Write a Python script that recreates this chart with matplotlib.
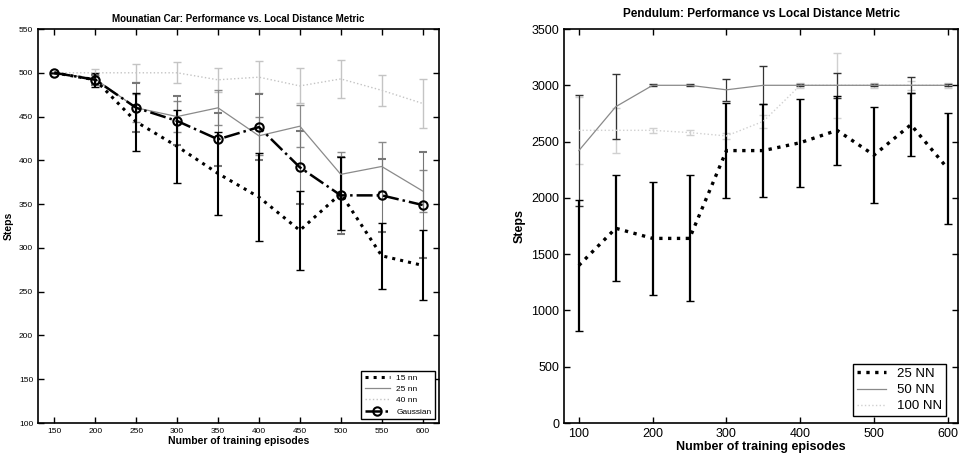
import matplotlib.pyplot as plt
from matplotlib.lines import Line2D

plt.rcParams['font.family'] = ['Liberation Sans Narrow', 'Liberation Sans', 'DejaVu Sans']

# Mountain car
car_x = [150, 200, 250, 300, 350, 400, 450, 500, 550, 600]
car_15 = [500, 492, 444, 416, 385, 358, 320, 362, 291, 280]
car_15_err = [0, 8, 33, 42, 47, 50, 45, 42, 38, 40]
car_25 = [500, 493, 460, 450, 460, 428, 439, 384, 393, 365]
car_25_err = [0, 5, 16, 18, 20, 22, 24, 26, 28, 24]
car_40 = [500, 500, 500, 500, 492, 495, 485, 493, 480, 465]
car_40_err = [0, 4, 10, 12, 14, 18, 20, 22, 18, 28]
car_gauss = [500, 492, 460, 445, 424, 438, 392, 360, 360, 349]
car_gauss_err = [0, 6, 28, 28, 30, 38, 42, 44, 42, 60]

# Pendulum
pen_x = [100, 150, 200, 250, 300, 350, 400, 450, 500, 550, 600]
pen_25 = [1400, 1730, 1640, 1640, 2420, 2420, 2490, 2600, 2380, 2650, 2260]
pen_25_err = [580, 470, 500, 560, 420, 410, 390, 305, 430, 280, 490]
pen_50 = [2420, 2810, 3000, 3000, 2960, 3000, 3000, 3000, 3000, 3000, 3000]
pen_50_err = [490, 290, 10, 10, 100, 170, 10, 110, 10, 70, 10]
pen_100 = [2600, 2600, 2600, 2580, 2550, 2680, 3000, 3000, 3000, 3000, 3000]
pen_100_err = [300, 200, 20, 20, 30, 60, 20, 290, 20, 40, 20]

# styles
S15 = dict(color='black', ls=':', lw=2.2)
S25 = dict(color='#8a8a8a', ls='-', lw=0.9)
S40 = dict(color='#c4c4c4', ls=':', lw=1.0)
SG = dict(color='black', ls='-.', lw=1.8, marker='o', mfc='none', mew=1.5, ms=6)
P25 = dict(color='black', ls=':', lw=2.4)
P50 = dict(color='#8a8a8a', ls='-', lw=0.9)
P100 = dict(color='#d0d0d0', ls=':', lw=1.0)


def matlab_axes(ax):
    ax.tick_params(direction='in', top=True, right=True, length=4, width=1)
    for s in ax.spines.values():
        s.set_linewidth(1.2)


fig = plt.figure(figsize=(9.61, 4.65), dpi=100)

ax1 = fig.add_axes([0.0395, 0.0903, 0.4173, 0.8473])
ax1.errorbar(car_x, car_40, yerr=car_40_err, capsize=3, **S40)
ax1.errorbar(car_x, car_25, yerr=car_25_err, capsize=3, **S25)
ax1.errorbar(car_x, car_gauss, yerr=car_gauss_err, capsize=3,
             ecolor='#777777', elinewidth=0.8, **SG)
ax1.errorbar(car_x, car_15, yerr=car_15_err, capsize=3, elinewidth=1.5, **S15)
ax1.set_xlim(130, 620)
ax1.set_ylim(100, 550)
ax1.set_xticks(car_x)
ax1.set_yticks(range(100, 551, 50))
ax1.tick_params(labelsize=6)
matlab_axes(ax1)
ax1.set_title('Mounatian Car: Performance vs. Local Distance Metric', fontsize=7,
              fontweight='bold', pad=5)
ax1.set_xlabel('Number of training episodes', fontsize=7.5, fontweight='bold', labelpad=1)
ax1.set_ylabel('Steps', fontsize=7.5, fontweight='bold', labelpad=4)
ax1.legend([Line2D([], [], **S15), Line2D([], [], **S25), Line2D([], [], **S40),
            Line2D([], [], **SG)],
           ['15 nn', '25 nn', '40 nn', 'Gaussian'], loc='lower right', fontsize=6,
           fancybox=False, edgecolor='black', framealpha=1, handlelength=3,
           borderpad=0.4, labelspacing=0.4)

ax2 = fig.add_axes([0.587, 0.0903, 0.410, 0.8473])
ax2.errorbar(pen_x, pen_100, yerr=pen_100_err, capsize=3, **P100)
ax2.errorbar(pen_x, pen_50, yerr=pen_50_err, capsize=3, ecolor='#333333', **P50)
ax2.errorbar(pen_x, pen_25, yerr=pen_25_err, capsize=3, elinewidth=1.6, **P25)
ax2.set_xlim(80, 614)
ax2.set_ylim(0, 3500)
ax2.set_xticks(range(100, 601, 100))
ax2.set_yticks(range(0, 3501, 500))
ax2.tick_params(labelsize=9)
matlab_axes(ax2)
ax2.set_title('Pendulum: Performance vs Local Distance Metric', fontsize=8.5,
              fontweight='bold', pad=9)
ax2.set_xlabel('Number of training episodes', fontsize=9, fontweight='bold', labelpad=1)
ax2.set_ylabel('Steps', fontsize=9, fontweight='bold', labelpad=4)
ax2.legend([Line2D([], [], **P25), Line2D([], [], **P50), Line2D([], [], **P100)],
           ['25 NN', '50 NN', '100 NN'], loc='lower right', fontsize=9.5, fancybox=False,
           edgecolor='black', framealpha=1, handlelength=2.2, borderpad=0.3,
           labelspacing=0.3, bbox_to_anchor=(0.985, 0.0))

fig.savefig('out.png', dpi=100)
